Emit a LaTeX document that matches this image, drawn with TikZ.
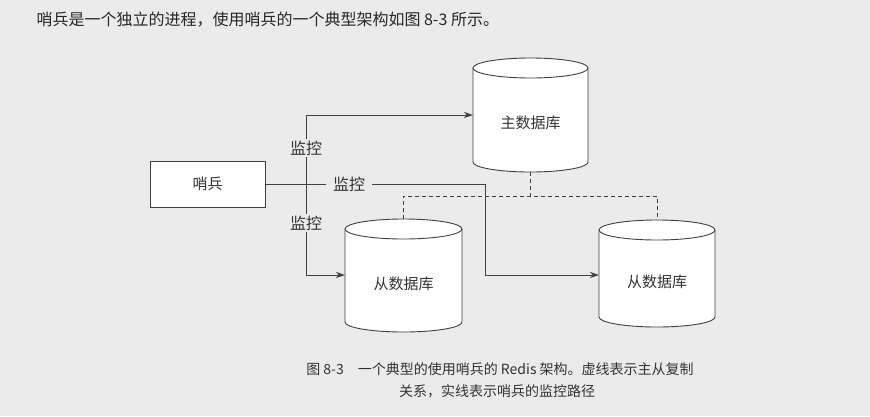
\documentclass[tikz,border=0pt]{standalone}
\usepackage{fontspec}
\setmainfont{Noto Sans CJK SC}
\usetikzlibrary{arrows.meta}
\tikzset{
  ln/.style={draw=black!75, line width=0.9pt},
  arr/.style={ln, -{Stealth[length=9pt,width=6pt,inset=3pt]}},
  dsh/.style={draw=black!75, line width=0.9pt, dash pattern=on 4pt off 3pt},
  lbl/.style={font=\fontsize{16}{16}\selectfont, text=black!80, fill=bgc, inner sep=1.5pt},
  txt/.style={font=\fontsize{15}{15}\selectfont, text=black!80},
}
\definecolor{bgc}{HTML}{EBEBEB}
\newcommand{\mycyl}[5]{% x1 x2 ytop-center ybottom-center name
  \pgfmathsetmacro{\rx}{(#2-#1)/2}
  \filldraw[ln, fill=white] (#1,#3) -- (#1,#4) arc[start angle=180,end angle=0,x radius=\rx,y radius=10] -- (#2,#3) arc[start angle=0,end angle=-180,x radius=\rx,y radius=10] -- cycle;
  \draw[ln] (#1,#3) arc[start angle=180,end angle=0,x radius=\rx,y radius=10];
  \node[txt] (#5) at ({(#1+#2)/2},{(#3+#4)/2+8}) {};
}
\begin{document}
\begin{tikzpicture}[x=1pt,y=-1pt]
\fill[bgc] (0,0) rectangle (870,416);
\useasboundingbox (0,0) rectangle (870,416);
\node[font=\fontsize{16}{16}\selectfont, text=black!85, anchor=west] (intro) at (33,20) {哨兵是一个独立的进程，使用哨兵的一个典型架构如图 8-3 所示。};
% cylinders
\mycyl{473}{588}{68}{162}{master}
\mycyl{345}{462}{229}{322}{slave1}
\mycyl{599}{715}{230}{317}{slave2}
\node[txt] at (master) {主数据库};
\node[txt] at (slave1) {从数据库};
\node[txt] at (slave2) {从数据库};
\node[ln, fill=white, minimum width=115pt, minimum height=46pt, inner sep=0pt] (sen) at (207.5,184) {};
\node[txt] at (sen) {哨兵};
% connectors
\coordinate (j) at (306,184);
\coordinate (mW) at (473,115);
\coordinate (s1W) at (345,275);
\coordinate (s2W) at (599,275);
\draw[ln] (sen.east) -- (j);
\draw[arr] (j) |- (mW);
\draw[arr] (j) |- (s1W);
\draw[arr] (j) -- (485,184) |- (s2W);
\node[lbl] (l1) at (306,148) {监控};
\node[lbl] (l2) at (306,223) {监控};
\node[lbl, inner xsep=7pt] (l3) at (349,184) {监控};
% dashed replication
\coordinate (mb) at (530,172);
\coordinate (s1t) at (403,219);
\coordinate (s2t) at (657,220);
\draw[dsh] (mb) -- (530,196);
\draw[dsh] (s1t) |- (s2t |- 0,196) -- (s2t);
% caption
\node[font=\fontsize{14}{14}\selectfont, text=black!80] (cap1) at (500,369) {图 8-3\quad 一个典型的使用哨兵的 Redis 架构。虚线表示主从复制};
\node[font=\fontsize{14}{14}\selectfont, text=black!80] (cap2) at (497,391) {关系，实线表示哨兵的监控路径};
\end{tikzpicture}
\end{document}
